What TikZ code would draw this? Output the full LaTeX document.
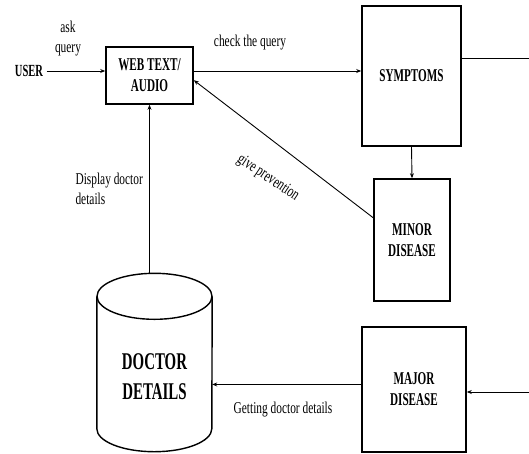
\documentclass[tikz,border=0pt]{standalone}
\usepackage{fontspec}
\setmainfont{Liberation Serif}
\newfontfamily\headfont{Liberation Serif}[FakeStretch=0.62]
\newfontfamily\notefont{Liberation Serif}[FakeStretch=0.69]
\usepackage{tikz}
\usetikzlibrary{arrows.meta}
\usetikzlibrary{calc}

\begin{document}
\begin{tikzpicture}[x=1pt,y=-1pt,
    block/.style={draw,line width=1.6pt,align=center,inner sep=0pt,
      font=\headfont\bfseries\fontsize{18}{21}\selectfont},
    flow/.style={-{Stealth[length=5pt,width=4pt]},line width=0.9pt},
    note/.style={font=\notefont\fontsize{16.5}{20}\selectfont}]
  \useasboundingbox (0,0) rectangle (529,453);

  \node[font=\headfont\bfseries\fontsize{17}{20}\selectfont] (user) at (29,71) {USER};
  \node[block,minimum width=87pt,minimum height=57pt] (web) at (149.5,75.5) {WEB TEXT/\\AUDIO};
  \node[block,minimum width=99pt,minimum height=140pt] (sym) at (411.5,76) {SYMPTOMS};
  \node[block,minimum width=76pt,minimum height=122pt] (minor) at (412,240) {MINOR\\DISEASE};
  \node[block,minimum width=104pt,minimum height=125pt] (major) at (414,389.5) {MAJOR\\DISEASE};
  \node[minimum width=115pt,minimum height=178pt,inner sep=0pt] (doc) at (154.5,362.5) {};
  \draw[line width=1.4pt] ([yshift=-23pt]doc.north) ellipse [x radius=57.5, y radius=23];
  \draw[line width=1.4pt] ([yshift=-23pt]doc.north west) -- ([yshift=23pt]doc.south west)
    arc[start angle=180, end angle=0, x radius=57.5, y radius=23]
    -- ([yshift=-23pt]doc.north east);
  \node[align=center,font=\headfont\bfseries\fontsize{24}{30}\selectfont] (doctxt)
    at ([yshift=-14pt]doc.center) {DOCTOR\\DETAILS};

  \coordinate (outA) at (529,58);
  \coordinate (outB) at (529,392);
  \coordinate (majIn) at ($(major.north west)!0.46!(major.south west)$);
  \coordinate (minOut) at ($(minor.north west)!0.32!(minor.south west)$);
  \coordinate (webIn) at ($(web.north east)!0.58!(web.south east)$);

  \draw[flow] (user.east) -- (user -| web.west);
  \node[note,align=center] (ask) at (68,39) {ask\\query};
  \draw[flow] (user -| web.east) -- (user -| sym.west);
  \node[note] (chk) at (250,43) {check the query};
  \draw[line width=0.9pt] (outA -| sym.east) -- (outA);
  \draw[flow] (sym.south) -- (minor.north);
  \draw[flow] (minOut) -- (webIn);
  \node[note,rotate=-34] (prev) at (268,178) {give prevention};
  \draw[flow] (outB) -- (outB -| major.east);
  \draw[flow] (majIn) -- (majIn -| doc.east);
  \node[note] (get) at (283,410) {Getting doctor details};
  \draw[flow,line width=0.7pt] (doc.north -| web.south) -- (web.south);
  \node[note,align=left,anchor=west] (disp) at (72,189) {Display doctor\\details};
\end{tikzpicture}
\end{document}
